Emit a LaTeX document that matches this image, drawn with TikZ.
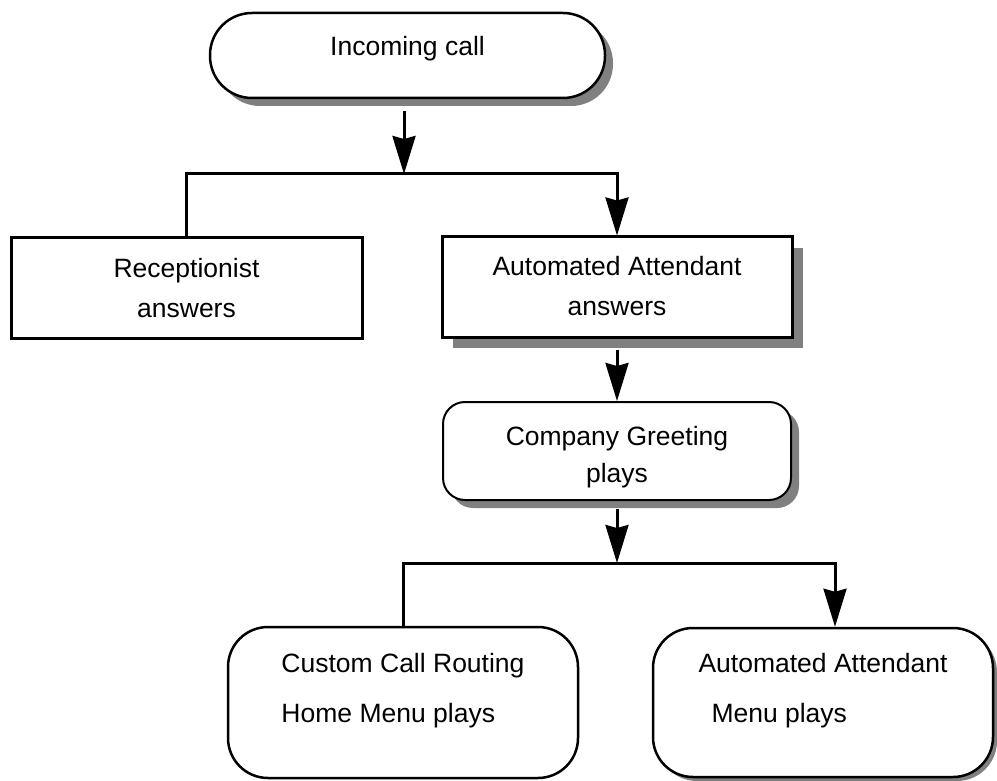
\documentclass[tikz,border=0pt]{standalone}
\usepackage{fontspec}
\setmainfont{Liberation Sans}
\usetikzlibrary{arrows.meta,shadows}

\begin{document}
\begin{tikzpicture}[x=1pt,y=-1pt,
    every node/.style={font=\fontsize{26.5}{40}\selectfont},
    box/.style={draw,line width=3pt,fill=white,inner sep=0pt,align=center},
    shade/.style={drop shadow={shadow xshift=#1,shadow yshift=-#1,fill=black!50,opacity=1}}]
  \useasboundingbox (0,0) rectangle (997,781);
  \draw
    (407.5,55.5) node[box,shade=8pt,line width=2.5pt,rounded corners=42pt,text height=19pt,text depth=19pt,
      minimum width=395pt,minimum height=85pt] (call){Incoming call}
    (186.5,288) node[box,text height=58pt,text depth=0pt,
      minimum width=351pt,minimum height=100pt] (recep){Receptionist\\answers}
    (617,287) node[box,shade=11pt,text height=56pt,text depth=0pt,
      minimum width=350pt,minimum height=100pt] (auto){Automated Attendant\\answers}
    (617,451) node[box,shade=8pt,line width=2pt,rounded corners=22pt,text height=62pt,text depth=0pt,
      minimum width=348pt,minimum height=98pt] (greet){Company Greeting\\[-3pt]plays}
    (403,702.5) node[box,line width=2.5pt,rounded corners=40pt,align=left,text height=39pt,text depth=0pt,
      minimum width=350pt,minimum height=151pt] (custom){Custom Call Routing\\[10pt]Home Menu plays}
    (823,702.5) node[box,shade=4pt,line width=2.5pt,rounded corners=40pt,align=left,text height=39pt,text depth=0pt,
      minimum width=340pt,minimum height=149pt] (menu){Automated Attendant\\[10pt]\hspace*{13pt}Menu plays};
  \coordinate (j1) at (404,174);
  \coordinate (j2) at (617,563);
  \begin{scope}[-{Stealth[length=38pt,width=23pt,inset=3pt]},line width=3pt]
    \draw[shorten <=12pt] (j1 |- call.south) to (j1);
    \draw (recep.north) |- (j1) -| (auto.north);
    \draw[shorten <=11pt] (auto) to (greet);
    \draw[shorten <=8pt] (j2 |- greet.south) to (j2);
    \draw (custom.north) |- (j2) -| ([xshift=12pt]menu.north);
  \end{scope}
\end{tikzpicture}
\end{document}
